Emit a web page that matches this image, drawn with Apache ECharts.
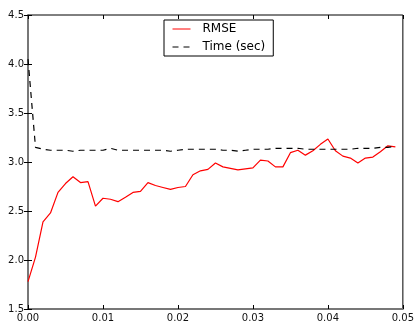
<!DOCTYPE html>
<html>
<head>
<meta charset="utf-8">
<script src="https://cdn.jsdelivr.net/npm/echarts@6/dist/echarts.min.js"></script>
<style>
  html, body { margin: 0; padding: 0; background: #fff; }
  #chart { width: 417px; height: 323px; }
</style>
</head>
<body>
<div id="chart"></div>
<script>
const xValues = [
  0.000, 0.001, 0.002, 0.003, 0.004, 0.005, 0.006, 0.007, 0.008, 0.009,
  0.010, 0.011, 0.012, 0.013, 0.014, 0.015, 0.016, 0.017, 0.018, 0.019,
  0.020, 0.021, 0.022, 0.023, 0.024, 0.025, 0.026, 0.027, 0.028, 0.029,
  0.030, 0.031, 0.032, 0.033, 0.034, 0.035, 0.036, 0.037, 0.038, 0.039,
  0.040, 0.041, 0.042, 0.043, 0.044, 0.045, 0.046, 0.047, 0.048, 0.049
];
const rmse = [
  1.78, 2.03, 2.39, 2.48, 2.69, 2.78, 2.85, 2.79, 2.80, 2.55,
  2.63, 2.62, 2.595, 2.64, 2.69, 2.70, 2.79, 2.76, 2.74, 2.72,
  2.74, 2.75, 2.87, 2.91, 2.925, 2.99, 2.95, 2.935, 2.92, 2.93,
  2.94, 3.02, 3.01, 2.95, 2.95, 3.095, 3.12, 3.07, 3.115, 3.18,
  3.235, 3.115, 3.06, 3.04, 2.99, 3.04, 3.05, 3.105, 3.165, 3.155
];
const timeSec = [
  4.05, 3.15, 3.13, 3.12, 3.12, 3.12, 3.11, 3.12, 3.12, 3.12,
  3.12, 3.14, 3.12, 3.12, 3.12, 3.12, 3.12, 3.12, 3.12, 3.11,
  3.12, 3.13, 3.13, 3.13, 3.13, 3.13, 3.12, 3.12, 3.11, 3.12,
  3.13, 3.13, 3.13, 3.14, 3.14, 3.14, 3.14, 3.13, 3.13, 3.13,
  3.13, 3.13, 3.13, 3.13, 3.14, 3.14, 3.14, 3.15, 3.15, 3.16
];
const xTicks = { min: 0, max: 0.05, interval: 0.01 };
const yTicks = { min: 1.5, max: 4.5, interval: 0.5 };

const font = 'DejaVu Sans';
const chart = echarts.init(document.getElementById('chart'));

const tick = { show: true, inside: true, length: 4, lineStyle: { color: '#000', width: 1 } };

chart.setOption({
  animation: false,
  textStyle: { fontFamily: font },
  grid: {
    left: 28, right: 10, top: 15, bottom: 14,
    show: true, borderColor: '#000', borderWidth: 1
  },
  legend: {
    orient: 'vertical',
    left: 164, top: 20,
    padding: [3, 8, 3, 8],
    itemWidth: 18, itemHeight: 14, itemGap: 6,
    borderColor: '#000', borderWidth: 1,
    backgroundColor: '#fff',
    // hide the marker dot, keep only the line sample
    itemStyle: { color: 'transparent', borderColor: 'transparent', borderWidth: 0, opacity: 0 },
    lineStyle: { width: 1 },
    textStyle: { fontFamily: font, fontSize: 12, color: '#000', padding: [0, 0, 0, 7] },
    data: ['RMSE', 'Time (sec)']
  },
  xAxis: [
    {
      type: 'value', position: 'bottom', ...xTicks,
      axisLine: { show: true, lineStyle: { color: '#777', width: 2 } },
      axisTick: tick,
      splitLine: { show: false },
      axisLabel: { fontFamily: font, fontSize: 10, color: '#111', margin: 4,
        formatter: v => v.toFixed(2) }
    },
    {
      type: 'value', position: 'top', ...xTicks,
      axisLine: { show: false },
      axisTick: tick,
      splitLine: { show: false },
      axisLabel: { show: false }
    }
  ],
  yAxis: [
    {
      type: 'value', position: 'left', ...yTicks,
      axisLine: { show: true, lineStyle: { color: '#000', width: 1 } },
      axisTick: tick,
      splitLine: { show: false },
      axisLabel: { fontFamily: font, fontSize: 10, color: '#111', margin: 4,
        formatter: v => v.toFixed(1) }
    },
    {
      type: 'value', position: 'right', ...yTicks,
      axisLine: { show: true, lineStyle: { color: '#777', width: 2 } },
      axisTick: tick,
      splitLine: { show: false },
      axisLabel: { show: false }
    }
  ],
  series: [
    {
      name: 'RMSE',
      type: 'line',
      symbol: 'none',
      data: xValues.map((x, i) => [x, rmse[i]]),
      lineStyle: { color: '#ff0000', width: 1.2 },
      itemStyle: { color: '#ff0000' }
    },
    {
      name: 'Time (sec)',
      type: 'line',
      symbol: 'none',
      data: xValues.map((x, i) => [x, timeSec[i]]),
      lineStyle: { color: '#000', width: 1.2, type: [6, 5] },
      itemStyle: { color: '#000' }
    }
  ]
});
</script>
</body>
</html>
